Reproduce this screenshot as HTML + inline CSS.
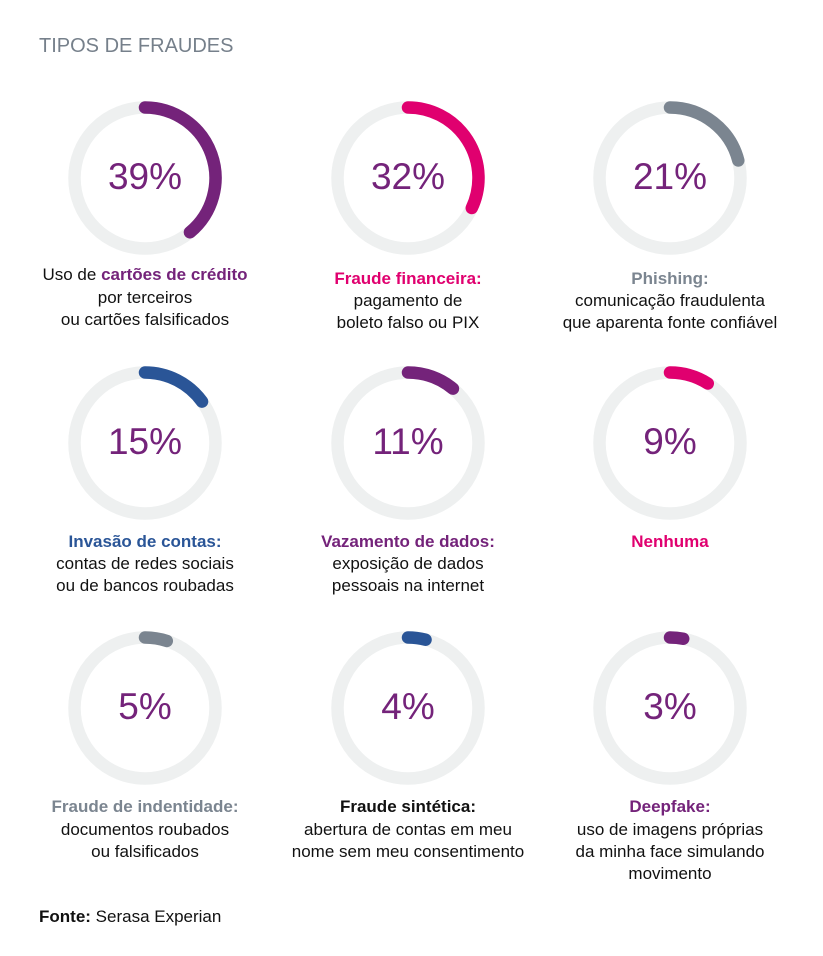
<!DOCTYPE html>
<html><head><meta charset="utf-8"><style>
body{margin:0;background:#fff;width:823px;height:951px;overflow:hidden;font-family:"Liberation Sans",sans-serif}
</style></head><body>
<svg width="823" height="951" viewBox="0 0 823 951" xmlns="http://www.w3.org/2000/svg" font-family="Liberation Sans, sans-serif">
<text x="39" y="52" font-size="20" fill="#76808b">TIPOS DE FRAUDES</text>
<g id="rings" fill="none" stroke-width="12.5" stroke-linecap="round">
</g>
<g id="pct" font-size="37" fill="#74237a" text-anchor="middle"></g>
<g font-size="17" text-anchor="middle" fill="#111">
<text x="145" y="280">Uso de <tspan font-weight="bold" fill="#74237a">cartões de crédito</tspan></text>
<text x="145" y="303">por terceiros</text>
<text x="145" y="325">ou cartões falsificados</text>
<text x="408" y="284" font-weight="bold" fill="#e0006f">Fraude financeira:</text>
<text x="408" y="306">pagamento de</text>
<text x="408" y="328">boleto falso ou PIX</text>
<text x="670" y="284" font-weight="bold" fill="#7b8590">Phishing:</text>
<text x="670" y="306">comunicação fraudulenta</text>
<text x="670" y="328">que aparenta fonte confiável</text>
<text x="145" y="547" font-weight="bold" fill="#2a5597">Invasão de contas:</text>
<text x="145" y="569">contas de redes sociais</text>
<text x="145" y="591">ou de bancos roubadas</text>
<text x="408" y="547" font-weight="bold" fill="#74237a">Vazamento de dados:</text>
<text x="408" y="569">exposição de dados</text>
<text x="408" y="591">pessoais na internet</text>
<text x="670" y="547" font-weight="bold" fill="#e0006f">Nenhuma</text>
<text x="145" y="812" font-weight="bold" fill="#7b8590">Fraude de indentidade:</text>
<text x="145" y="835">documentos roubados</text>
<text x="145" y="857">ou falsificados</text>
<text x="408" y="812" font-weight="bold" fill="#111">Fraude sintética:</text>
<text x="408" y="835">abertura de contas em meu</text>
<text x="408" y="857">nome sem meu consentimento</text>
<text x="670" y="812" font-weight="bold" fill="#74237a">Deepfake:</text>
<text x="670" y="835">uso de imagens próprias</text>
<text x="670" y="857">da minha face simulando</text>
<text x="670" y="879">movimento</text>
</g>
<text x="39" y="922" font-size="17" fill="#111"><tspan font-weight="bold">Fonte:</tspan> Serasa Experian</text>
</svg>
<script>
const data=[[145,178,39,"#74237a"],[408,178,32,"#e0006f"],[670,178,21,"#7b8590"],
[145,443,15,"#2a5597"],[408,443,11,"#74237a"],[670,443,9,"#e0006f"],
[145,708,5,"#7b8590"],[408,708,4,"#2a5597"],[670,708,3,"#74237a"]];
const ns="http://www.w3.org/2000/svg",g=document.getElementById("rings"),p=document.getElementById("pct");
const r=70.5;
for(const [cx,cy,v,c] of data){
 let t=document.createElementNS(ns,"circle");t.setAttribute("cx",cx);t.setAttribute("cy",cy);t.setAttribute("r",r);t.setAttribute("stroke","#eef0f0");g.appendChild(t);
 const a=v/100*2*Math.PI;const x=cx+r*Math.sin(a),y=cy-r*Math.cos(a);
 let pa=document.createElementNS(ns,"path");pa.setAttribute("d",`M${cx} ${cy-r} A${r} ${r} 0 ${v>50?1:0} 1 ${x} ${y}`);pa.setAttribute("stroke",c);g.appendChild(pa);
 let tx=document.createElementNS(ns,"text");tx.setAttribute("x",cx);tx.setAttribute("y",cy+11);tx.textContent=v+"%";p.appendChild(tx);
}
</script>
</body></html>
